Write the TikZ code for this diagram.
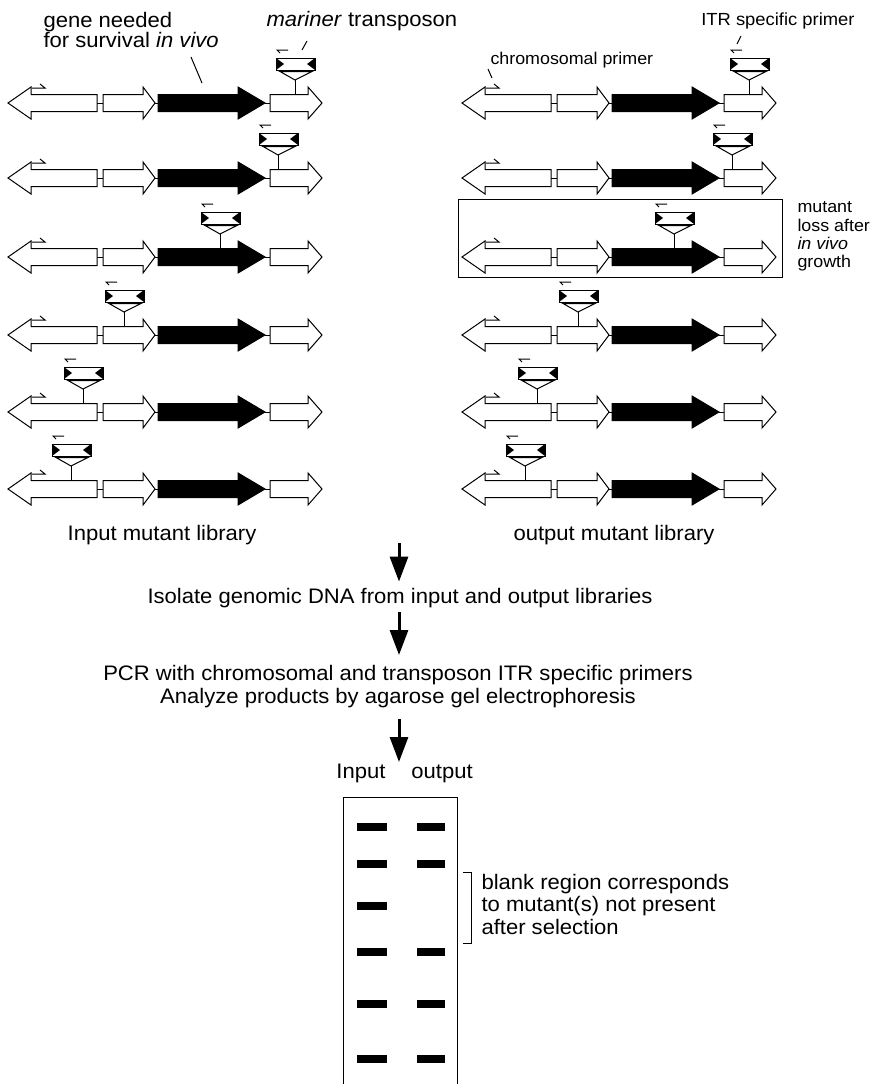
\documentclass[tikz,border=0pt]{standalone}
\usepackage{fontspec}
\setmainfont{Liberation Sans}[FakeStretch=1.05]
\usetikzlibrary{arrows.meta}

\tikzset{
  gene/.style={draw, fill=white},
  big/.style={font=\fontsize{21}{18}\selectfont, inner sep=0pt},
  small/.style={font=\fontsize{17}{18.3}\selectfont, inner sep=0pt},
  flow/.style={-{Triangle[length=25pt, width=18pt]}, line width=3pt},
}

% one chromosome row: #1 column shift, #2 row centre, #3 transposon insertion
\newcommand{\generow}[3]{%
  \begin{scope}[shift={(#1,#2)}]
    % genes
    \draw[gene] (8,0) -- (31,-16) -- (31,-8.5) -- (97,-8.5) -- (97,8.5) -- (31,8.5) -- (31,16) -- cycle;
    \draw (97,0) -- (103,0);
    \draw[gene] (103,-8.5) -- (143,-8.5) -- (143,-16) -- (155,0) -- (143,16) -- (143,8.5) -- (103,8.5) -- cycle;
    \draw (155,0) -- (158,0);
    \draw[gene, fill=black] (158,-8.5) -- (238,-8.5) -- (238,-16) -- (265,0) -- (238,16) -- (238,8.5) -- (158,8.5) -- cycle;
    \draw (265,0) -- (270,0);
    \draw[gene] (270,-8.5) -- (308,-8.5) -- (308,-16) -- (322,0) -- (308,16) -- (308,8.5) -- (270,8.5) -- cycle;
    % chromosomal primer
    \draw (32,-15) -- (45,-15) -- (40,-19);
    % transposon
    \draw (#3,-8.5) -- (#3,-23);
    \draw[gene] (#3-15,-31.5) -- (#3,-23) -- (#3+17,-31.5) -- cycle;
    \draw[gene] (#3-19,-45) rectangle (#3+20,-33);
    \fill (#3-19,-45) -- (#3-11,-39) -- (#3-19,-33) -- cycle;
    \fill (#3+20,-45) -- (#3+12,-39) -- (#3+20,-33) -- cycle;
    % ITR primer
    \draw (#3-7,-53) -- (#3-18,-53) -- (#3-15,-50);
  \end{scope}}

\begin{document}
\begin{tikzpicture}[x=1pt, y=-1pt, line width=1pt]
  \useasboundingbox (0,0) rectangle (874,1084);

  % Input library (left)
  \generow{0}{103}{295}
  \generow{0}{178}{278}
  \generow{0}{257}{220}
  \generow{0}{335}{124}
  \generow{0}{412}{83}
  \generow{0}{489}{71}

  % Output library (right)
  \generow{454}{103}{295}
  \generow{454}{178}{278}
  \generow{454}{257}{220}
  \generow{454}{335}{124}
  \generow{454}{412}{83}
  \generow{454}{489}{71}

  % Lost mutant
  \draw (458,199) rectangle (782,277);
  \node[small, anchor=north west, align=left] (loss) at (797,201.5)
    {mutant\\loss after\\\textit{in vivo}\\growth};

  % Top labels
  \node[big, anchor=north west, align=left] (need) at (43,11.7)
    {gene needed\\for survival \textit{in vivo}};
  \draw (191,57) -- (202,83);
  \node[big, anchor=base west] (mar) at (266,27) {\textit{mariner} transposon};
  \draw (307,41) -- (302,50);
  \node[small, font=\fontsize{17.5}{18}\selectfont, anchor=base east] (itr) at (855,25)
    {ITR specific primer};
  \draw (741,36) -- (737,44);
  \node[small, anchor=base west] (chr) at (490,64) {chromosomal primer};
  \draw (488,69) -- (492,78);

  \node[big, anchor=base] (inlib) at (162,540) {Input mutant library};
  \node[big, anchor=base] (outlib) at (614,540) {output mutant library};

  % Steps
  \coordinate (start) at (399,543);
  \node[big, anchor=base] (iso) at (400,603)
    {Isolate genomic DNA from input and output libraries};
  \node[big, font=\fontsize{21}{23}\selectfont, anchor=north, align=center] (pcr)
    at (398,664.7) {PCR with chromosomal and transposon ITR specific primers\\
    Analyze products by agarose gel electrophoresis};
  \coordinate (geltop) at (399,762);
  \draw[flow, shorten >=5.7pt] (start) -- (start |- iso.north);
  \draw[flow, shorten <=4.6pt, shorten >=9.7pt] (start |- iso.south) -- (start |- pcr.north);
  \draw[flow, shorten <=10.6pt] (start |- pcr.south) -- (geltop);

  % Gel
  \node[big, anchor=base] (lin) at (361,778) {Input};
  \node[big, anchor=base] (lout) at (442,778) {output};
  \draw (343,1084) -- (343,797) -- (457,797) -- (457,1084);
  \foreach \y in {827,864,906,952,1004,1059}
    \fill (357,\y-4) rectangle (387,\y+4);
  \foreach \y in {827,864,952,1004,1059}
    \fill (417,\y-4) rectangle (445,\y+4);
  \draw (463,872) -- (471,872) -- (471,943) -- (463,943);
  \node[big, font=\fontsize{21}{22.5}\selectfont, anchor=north west, align=left] (blank)
    at (481,873.7) {blank region corresponds\\to mutant(s) not present\\after selection};
\end{tikzpicture}
\end{document}
